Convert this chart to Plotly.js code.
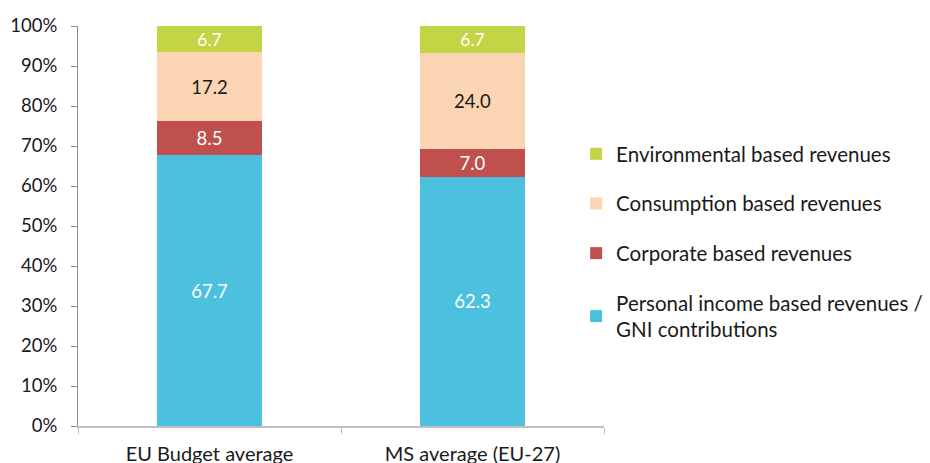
<!DOCTYPE html>
<html><head><meta charset="utf-8">
<script src="https://cdn.plot.ly/plotly-3.0.1.min.js"></script>
<style>html,body{margin:0;padding:0;background:#fff}#chart{width:930px;height:463px}</style>
</head><body><div id="chart"></div>
<script>
const categories = ["EU Budget average", "MS average (EU-27)"];
const personal = [67.7, 62.3];
const corporate = [8.5, 7.0];
const consumption = [17.2, 24.0];
const environmental = [6.7, 6.7];
const seriesNames = ["Personal income based revenues /<br>GNI contributions", "Corporate based revenues", "Consumption based revenues", "Environmental based revenues"];
const seriesValues = [personal, corporate, consumption, environmental];
const colors = ["#4bc0df", "#c0504d", "#fbd4b4", "#c3d545"];
const textColors = ["#ffffff", "#ffffff", "#1a1a1a", "#ffffff"];
const FONT = "Lato, 'Open Sans', sans-serif";

const traces = seriesValues.map((vals, i) => ({
  type: "bar",
  name: seriesNames[i],
  x: categories,
  y: vals,
  marker: {color: colors[i], line: {width: 0}},
  text: vals.map(v => v.toFixed(1)),
  textposition: "inside",
  insidetextanchor: "middle",
  textangle: 0,
  insidetextfont: {color: textColors[i], size: 18.5, family: FONT},
  legendgroup: "g" + i,
  legendrank: 4 - i,
  hoverinfo: "none",
  cliponaxis: true
}));

const layout = {
  width: 930, height: 463,
  barmode: "stack",
  bargap: 0.6,
  margin: {l: 78, r: 326, t: 26, b: 37, autoexpand: false},
  paper_bgcolor: "#fff", plot_bgcolor: "#fff",
  font: {family: FONT, color: "#1a1a1a", size: 16},
  showlegend: true,
  legend: {
    x: 0.947, xanchor: "left", xref: "paper",
    y: 0.73, yanchor: "top",
    traceorder: "grouped",
    tracegroupgap: 20,
    font: {size: 20.5, family: FONT, color: "#1a1a1a"},
    itemwidth: 30,
    bgcolor: "rgba(0,0,0,0)"
  },
  xaxis: {
    type: "category",
    showline: true, linecolor: "#bfbfbf", linewidth: 1.5,
    ticks: "outside", tickson: "boundaries", ticklen: 6, tickcolor: "#bfbfbf",
    ticklabelstandoff: 9,
    tickfont: {size: 20, family: FONT, color: "#1a1a1a"},
    showgrid: false, zeroline: false
  },
  yaxis: {
    range: [0, 100],
    dtick: 10,
    ticksuffix: "%",
    showline: true, linecolor: "#8c8c8c", linewidth: 1,
    ticks: "outside", ticklen: 6, tickcolor: "#8c8c8c",
    ticklabelstandoff: 10,
    tickfont: {size: 18.5, family: FONT, color: "#1a1a1a"},
    showgrid: false, zeroline: false
  }
};
Plotly.newPlot("chart", traces, layout, {displayModeBar: false, staticPlot: true});
</script></body></html>
